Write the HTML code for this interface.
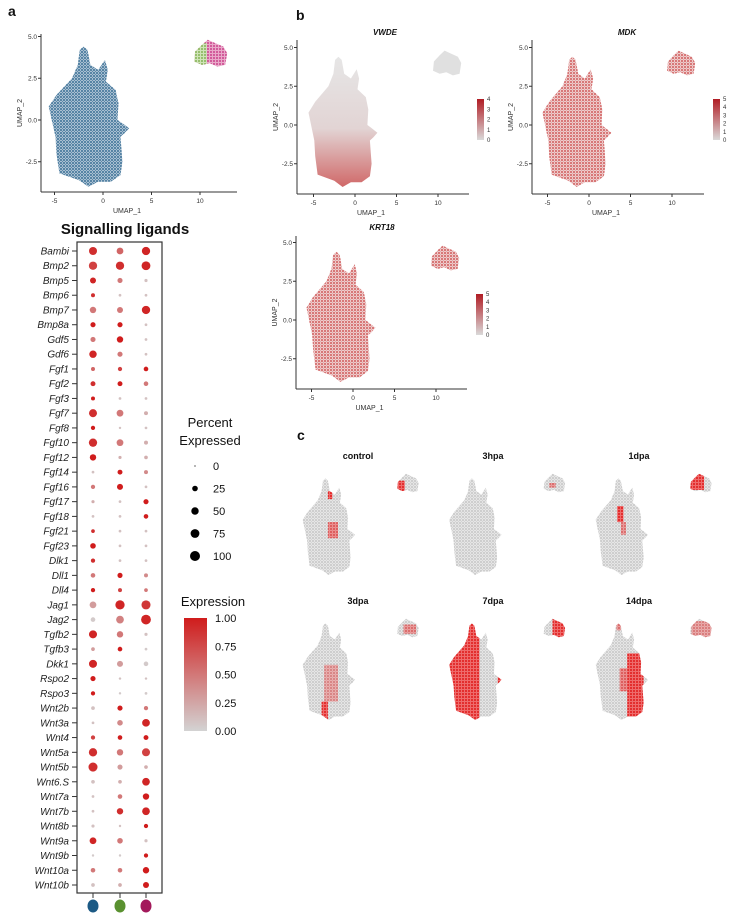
<!DOCTYPE html>
<html><head><meta charset="utf-8">
<style>
html,body{margin:0;padding:0;background:#fff;}
svg{display:block;font-family:"Liberation Sans",Arial,sans-serif;}
</style></head>
<body>
<svg id="fig" width="755" height="917" viewBox="0 0 755 917" xmlns="http://www.w3.org/2000/svg">
<defs>
<pattern id="pBlue" width="3" height="3" patternUnits="userSpaceOnUse"><rect width="3" height="3" fill="#a9c0d1"/><circle cx="1" cy="1" r="0.9" fill="#1d5a86"/><circle cx="2.5" cy="2.4" r="0.5" fill="#3a7099"/></pattern>
<pattern id="pRed" width="3" height="3" patternUnits="userSpaceOnUse"><rect width="3" height="3" fill="#efcaca"/><circle cx="1" cy="1" r="0.85" fill="#c43434"/><circle cx="2.5" cy="2.4" r="0.5" fill="#d9a0a0"/></pattern>
<pattern id="pGray" width="3" height="3" patternUnits="userSpaceOnUse"><rect width="3" height="3" fill="#e6e6e6"/><circle cx="1" cy="1" r="0.9" fill="#bdbdbd"/><circle cx="2.5" cy="2.4" r="0.5" fill="#cccccc"/></pattern>
<pattern id="pHot" width="3" height="3" patternUnits="userSpaceOnUse"><rect width="3" height="3" fill="#ee6b6b"/><circle cx="1" cy="1" r="1" fill="#e01a1a"/></pattern>
<pattern id="pPink" width="3" height="3" patternUnits="userSpaceOnUse"><rect width="3" height="3" fill="#e9a9c9"/><circle cx="1" cy="1" r="0.9" fill="#c2247a"/></pattern>
<pattern id="pGreen" width="3" height="3" patternUnits="userSpaceOnUse"><rect width="3" height="3" fill="#cfe3b8"/><circle cx="1" cy="1" r="0.9" fill="#6fa63a"/></pattern>
<linearGradient id="gExpr" x1="0" y1="1" x2="0" y2="0"><stop offset="0" stop-color="#d3d3d3"/><stop offset="1" stop-color="#d01c1c"/></linearGradient>
<linearGradient id="gFeat" x1="0" y1="1" x2="0" y2="0"><stop offset="0" stop-color="#d9d9d9"/><stop offset="1" stop-color="#b01c24"/></linearGradient>
<linearGradient id="gVwde" x1="0" y1="0" x2="0" y2="1"><stop offset="0" stop-color="#e6e6e6"/><stop offset="0.55" stop-color="#e2d4d4"/><stop offset="1" stop-color="#d06868"/></linearGradient>
</defs>
<g id="panels"></g>
<g id="dotplot"></g>
</svg>
<script>
// ---- dot plot data ----
const genes = ["Bambi","Bmp2","Bmp5","Bmp6","Bmp7","Bmp8a","Gdf5","Gdf6","Fgf1","Fgf2","Fgf3","Fgf7","Fgf8","Fgf10","Fgf12","Fgf14","Fgf16","Fgf17","Fgf18","Fgf21","Fgf23","Dlk1","Dll1","Dll4","Jag1","Jag2","Tgfb2","Tgfb3","Dkk1","Rspo2","Rspo3","Wnt2b","Wnt3a","Wnt4","Wnt5a","Wnt5b","Wnt6.S","Wnt7a","Wnt7b","Wnt8b","Wnt9a","Wnt9b","Wnt10a","Wnt10b"];
const pctCluster1 = [60,65,30,10,35,20,20,50,10,18,10,60,12,65,35,3,12,5,3,8,25,12,15,12,40,15,60,8,60,20,12,8,3,12,65,80,8,3,3,5,40,2,15,8];
const pctCluster2 = [40,65,20,3,30,20,35,20,12,18,3,40,2,40,5,18,30,3,3,3,3,3,20,10,85,55,35,15,30,2,2,20,25,15,35,20,8,15,35,2,25,2,15,8];
const pctCluster3 = [65,75,5,3,65,3,3,3,15,15,3,10,3,10,8,10,3,20,15,3,3,3,10,8,80,95,5,3,15,2,3,12,55,18,60,8,55,35,55,12,5,12,35,30];
const exprCluster1 = [0.9,0.8,0.95,0.9,0.5,1,0.5,0.95,0.6,0.9,1,0.9,1,0.9,1,0.1,0.5,0.2,0.1,0.9,1,0.9,0.5,1,0.3,0.05,0.95,0.3,0.95,1,1,0.1,0.1,0.8,0.9,0.9,0.1,0.1,0.1,0.1,0.95,0.05,0.5,0.1];
const exprCluster2 = [0.6,0.9,0.5,0.1,0.5,1,1,0.5,0.8,1,0.1,0.5,0.1,0.5,0.2,1,1,0.1,0.1,0.1,0.1,0.1,1,0.8,0.95,0.45,0.5,1,0.3,0.1,0.05,1,0.4,1,0.5,0.3,0.2,0.5,0.9,0.1,0.5,0.05,0.5,0.2];
const exprCluster3 = [0.95,0.95,0.1,0.1,0.95,0.1,0.1,0.1,1,0.5,0.1,0.2,0.1,0.2,0.2,0.4,0.1,1,1,0.1,0.1,0.1,0.4,0.5,0.85,0.95,0.1,0.05,0.05,0.1,0.05,0.5,0.95,1,0.8,0.2,0.95,1,0.95,1,0.1,1,1,1];
const sizeLegend = [0,25,50,75,100];
const exprTicks = ["1.00","0.75","0.50","0.25","0.00"];
const clusterColors = ["#1c5a85","#5a9130","#a3195b"];

const NS="http://www.w3.org/2000/svg";
function mk(tag, attrs, parent, text){const e=document.createElementNS(NS,tag);for(const k in attrs)e.setAttribute(k,attrs[k]);if(text!==undefined)e.textContent=text;parent.appendChild(e);return e;}
function lerp(a,b,t){return Math.round(a+(b-a)*t);}
function exprColor(v){return `rgb(${lerp(211,208,v)},${lerp(211,28,v)},${lerp(211,28,v)})`;}

const dp=document.getElementById('dotplot');
const rowY = i => 251 + i*(885-251)/(genes.length-1);
const colX = j => [93,120,146][j];
const rad = p => 0.6 + Math.sqrt(p/100)*4.4;

let t=mk('text',{x:125,y:234,'text-anchor':'middle','font-size':15,'font-weight':'bold',fill:'#111'},dp,'Signalling ligands');


let box=mk('rect',{x:77,y:242,width:85,height:651,fill:'none',stroke:'#333','stroke-width':1.2},dp);


const pcts=[pctCluster1,pctCluster2,pctCluster3], exprs=[exprCluster1,exprCluster2,exprCluster3];
genes.forEach((g,i)=>{
  const y=rowY(i);
  const lb=mk('text',{x:69,y:y+3.5,'text-anchor':'end','font-size':10,'font-style':'italic',fill:'#222'},dp,g);
  
  
  mk('line',{x1:72,x2:77,y1:y,y2:y,stroke:'#333','stroke-width':1},dp);
  for(let j=0;j<3;j++){
    const c=mk('circle',{cx:colX(j),cy:y,r:rad(pcts[j][i]),fill:exprColor(exprs[j][i])},dp);
    
    
  }
});
for(let j=0;j<3;j++){
  mk('line',{x1:colX(j),x2:colX(j),y1:893,y2:898,stroke:'#333'},dp);
  const c=mk('ellipse',{cx:colX(j),cy:906,rx:5.5,ry:6.5,fill:clusterColors[j]},dp);
  
  
}
// size legend
let lt=mk('text',{x:210,y:427,'text-anchor':'middle','font-size':13,fill:'#111'},dp,'Percent');


mk('text',{x:210,y:445,'text-anchor':'middle','font-size':13,fill:'#111'},dp,'Expressed');
sizeLegend.forEach((p,k)=>{
  const y=466+k*22.5;
  const c=mk('circle',{cx:195,cy:y,r:rad(p),fill:'#000'},dp);
  
  
  mk('text',{x:213,y:y+4,'font-size':11,fill:'#111'},dp,String(p));
});
let et=mk('text',{x:213,y:606,'text-anchor':'middle','font-size':13,fill:'#111'},dp,'Expression');


let cb=mk('rect',{x:184,y:618,width:23,height:113,fill:'url(#gExpr)'},dp);


exprTicks.forEach((s,k)=>{const y=618+k*28.25;mk('text',{x:215,y:y+4,'font-size':11,fill:'#111'},dp,s);});

// ---- UMAP shapes (UMAP coordinates) ----
const blobX = [-2,-1.6,-1.3,-0.5,0.2,0.5,0.3,1.3,1.6,1.5,2.0,2.7,2.2,1.8,2.0,1.8,0.8,-0.5,-1.5,-2.5,-4.5,-4.8,-4.9,-5.6,-4.8,-4.0,-3.2,-2.6,-2.4];
const blobY = [4.4,4.2,3.3,3.0,3.6,3.0,2.3,1.8,1.0,0,-0.2,-0.5,-0.8,-1.0,-2.5,-3.3,-3.7,-3.7,-4.0,-3.6,-3.2,-2.0,-1.0,0.8,1.5,2.0,2.5,3.3,4.2];
const islX = [9.4,9.5,10.2,10.8,11.6,12.4,12.8,12.6,11.8,11.0,10.2];
const islY = [3.5,4.1,4.5,4.8,4.6,4.4,4.0,3.3,3.2,3.4,3.3];
const xTicks=[-5,0,5,10], yTicks=[-2.5,0,2.5,5];
const yTickLabels=["-2.5","0.0","2.5","5.0"];

const P=document.getElementById('panels');
function poly(xs,ys,sx,sy){return xs.map((x,i)=>sx(x).toFixed(1)+','+sy(ys[i]).toFixed(1)).join(' ');}
function umap(o){
  const g=mk('g',{},P);
  
  
  const sx=x=>o.x0+x*o.kx, sy=y=>o.y0-y*o.ky;
  const id='clip_'+o.name;
  const cp=mk('clipPath',{id:id},g);
  mk('polygon',{points:poly(blobX,blobY,sx,sy)},cp);
  mk('polygon',{points:poly(islX,islY,sx,sy)},cp);
  const b=mk('polygon',{points:poly(blobX,blobY,sx,sy),fill:o.fill},g);
  
  
  const il=mk('polygon',{points:poly(islX,islY,sx,sy),fill:o.islFill||o.fill},g);
  
  
  if(o.hot){const hg=mk('g',{'clip-path':'url(#'+id+')'},g);o.hot.forEach(r=>{mk('rect',{x:sx(r[0]),y:sy(r[3]),width:(r[2]-r[0])*o.kx,height:(r[3]-r[1])*o.ky,fill:r[4]||'url(#pHot)',opacity:r[5]||1},hg);});}
  if(o.axes){
    const a=o.axes;
    mk('line',{x1:a.left,x2:a.left,y1:a.top,y2:a.bottom,stroke:'#333','stroke-width':1},g);
    mk('line',{x1:a.left,x2:a.right,y1:a.bottom,y2:a.bottom,stroke:'#333','stroke-width':1},g);
    xTicks.forEach(v=>{mk('line',{x1:sx(v),x2:sx(v),y1:a.bottom,y2:a.bottom+3,stroke:'#333'},g);mk('text',{x:sx(v),y:a.bottom+11,'text-anchor':'middle','font-size':6.5,fill:'#333'},g,String(v));});
    yTicks.forEach((v,k)=>{mk('line',{x1:a.left-3,x2:a.left,y1:sy(v),y2:sy(v),stroke:'#333'},g);mk('text',{x:a.left-4,y:sy(v)+2.3,'text-anchor':'end','font-size':6.5,fill:'#333'},g,yTickLabels[k]);});
    mk('text',{x:(a.left+a.right)/2-12,y:a.bottom+21,'text-anchor':'middle','font-size':7,fill:'#333'},g,'UMAP_1');
    mk('text',{x:a.left-19,y:(a.top+a.bottom)/2,'text-anchor':'middle','font-size':7,fill:'#333',transform:`rotate(-90 ${a.left-19} ${(a.top+a.bottom)/2})`},g,'UMAP_2');
  }
  if(o.title){const tt=mk('text',{x:o.title[1],y:o.title[2],'text-anchor':'middle','font-size':o.tfs||8,'font-weight':'bold','font-style':o.tital?'italic':'normal',fill:'#111'},g,o.title[0]);}
  if(o.cbar){const c=o.cbar;mk('rect',{x:c.x,y:c.y,width:7,height:c.h,fill:'url(#gFeat)'},g);c.labels.forEach((s,k)=>{mk('text',{x:c.x+10,y:c.y+2+k*c.h/(c.labels.length-1),'font-size':6,fill:'#333'},g,s);});}
}
// panel labels
[['a',8,16],['b',296,20],['c',297,440]].forEach(l=>{const e=mk('text',{x:l[1],y:l[2],'font-size':14,'font-weight':'bold',fill:'#111'},P,l[0]);});

umap({name:'umap-clusters',x0:103,kx:9.7,y0:120,ky:16.7,fill:'url(#pBlue)',islFill:'url(#pPink)',
  hot:[[9.3,3.0,10.7,4.6,'url(#pGreen)']],
  axes:{left:41,right:237,top:34,bottom:192}});
umap({name:'umap-vwde',x0:355,kx:8.3,y0:125,ky:15.5,fill:'url(#gVwde)',islFill:'#e0e0e0',
  axes:{left:297,right:469,top:40,bottom:194},title:['VWDE',385,35],tital:true,
  cbar:{x:477,y:99,h:41,labels:['4','3','2','1','0']}});
umap({name:'umap-mdk',x0:589,kx:8.3,y0:125,ky:15.5,fill:'url(#pRed)',
  axes:{left:532,right:704,top:40,bottom:194},title:['MDK',627,35],tital:true,
  cbar:{x:713,y:99,h:41,labels:['5','4','3','2','1','0']}});
umap({name:'umap-krt18',x0:353,kx:8.3,y0:320,ky:15.5,fill:'url(#pRed)',
  axes:{left:296,right:467,top:236,bottom:389},title:['KRT18',382,230],tital:true,
  cbar:{x:476,y:294,h:41,labels:['5','4','3','2','1','0']}});

const cond=[
 ['control',0,0,[[-1.6,2.6,-0.9,3.3],[-1.6,-0.8,0,0.6,'url(#pHot)',0.7],[9.4,3.3,10.6,4.2]]],
 ['3hpa',1,0,[[10.3,3.6,11.3,4.0,'url(#pHot)',0.6]]],
 ['1dpa',2,0,[[-2.2,0.6,-1.2,2.0],[-1.6,-0.5,-0.8,0.6,'url(#pHot)',0.6],[9.4,3.4,11.6,4.8]]],
 ['3dpa',0,1,[[-2.6,-4,-1.6,-2.4],[-2.2,-2.4,0,0.8,'url(#pHot)',0.45],[10.4,3.5,12.4,4.3,'url(#pHot)',0.6]]],
 ['7dpa',1,1,[[-6,-4.2,-0.8,5],[10.8,3,12.8,4.8],[2.1,-0.8,2.8,-0.2]]],
 ['14dpa',2,1,[[-0.6,-4.2,2,1.8],[-1.8,-1.5,-0.6,0.5,'url(#pHot)',0.7],[-2.3,3.8,-1.6,4.5,'url(#pHot)',0.6],[9.6,3,12.8,4.6,'url(#pHot)',0.5]]]
];
const condTitleX=[358,493,639];
cond.forEach(c=>{
  const dx=c[1]*146.5, dy=c[2]*145;
  umap({name:'umap-'+c[0],x0:338+dx,kx:6.3,y0:529+dy,ky:11.5,fill:'url(#pGray)',hot:c[3],
    title:[c[0],condTitleX[c[1]],459+dy],tfs:9});
});
</script>
</body></html>
